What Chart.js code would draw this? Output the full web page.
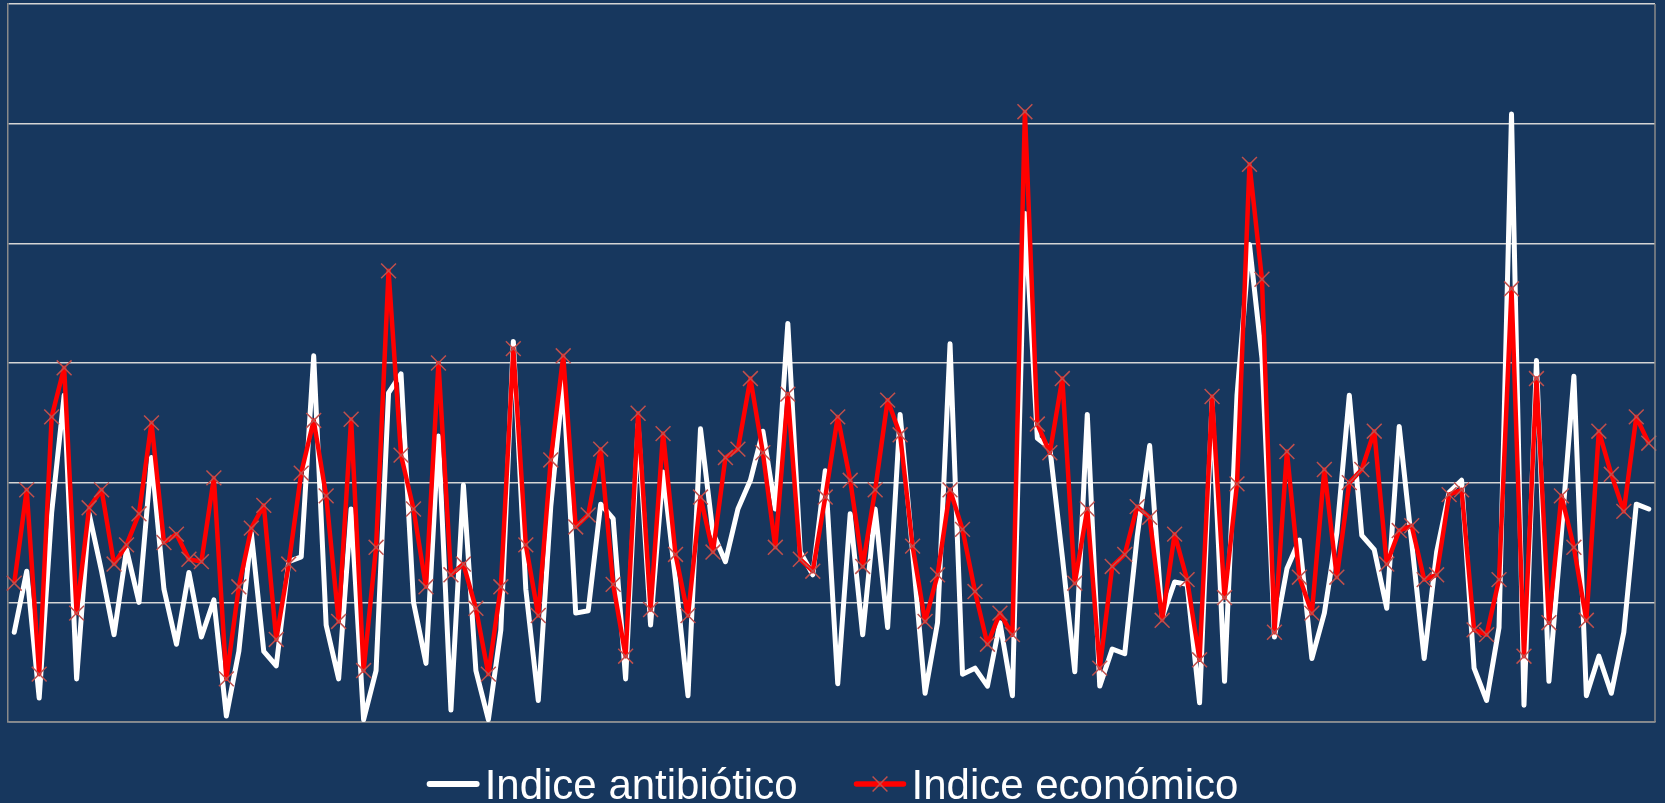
<!DOCTYPE html>
<html>
<head>
<meta charset="utf-8">
<script src="https://cdn.jsdelivr.net/npm/chart.js@4.4.0/dist/chart.umd.min.js"></script>
<style>
  html, body { margin: 0; padding: 0; background: #17375E; }
  canvas { display: block; }
</style>
</head>
<body>
<canvas id="myChart" width="1665" height="803"></canvas>
<script>
const antibiotico = [
  0.75, 1.26, 0.20, 1.75, 2.73, 0.36, 1.74, 1.26, 0.73, 1.44,
  1.00, 2.21, 1.11, 0.65, 1.25, 0.71, 1.02, 0.05, 0.59, 1.58,
  0.59, 0.47, 1.34, 1.38, 3.06, 0.81, 0.36, 1.78, 0.02, 0.43,
  2.75, 2.91, 1.00, 0.49, 2.39, 0.10, 1.98, 0.43, 0.02, 0.77,
  3.18, 1.11, 0.18, 1.80, 2.85, 0.91, 0.93, 1.82, 1.70, 0.36,
  2.49, 0.81, 2.09, 1.19, 0.22, 2.45, 1.58, 1.34, 1.78, 2.02,
  2.43, 1.78, 3.33, 1.42, 1.23, 2.10, 0.32, 1.74, 0.73, 1.78,
  0.79, 2.57, 1.42, 0.24, 0.83, 3.16, 0.40, 0.45, 0.30, 0.83,
  0.22, 4.25, 2.37, 2.29, 1.38, 0.42, 2.57, 0.30, 0.61, 0.57,
  1.55, 2.31, 0.87, 1.17, 1.15, 0.16, 2.68, 0.34, 2.73, 3.99,
  3.04, 0.71, 1.28, 1.52, 0.53, 0.91, 1.58, 2.73, 1.56, 1.44,
  0.95, 2.47, 1.50, 0.53, 1.42, 1.92, 2.02, 0.45, 0.18, 0.79,
  5.08, 0.14, 3.02, 0.34, 1.58, 2.89, 0.22, 0.55, 0.24, 0.75,
  1.82, 1.78
];

const economico = [
  1.16, 1.94, 0.40, 2.55, 2.96, 0.91, 1.79, 1.94, 1.32, 1.48,
  1.74, 2.50, 1.50, 1.57, 1.36, 1.34, 2.04, 0.36, 1.13, 1.62,
  1.81, 0.69, 1.32, 2.08, 2.52, 1.89, 0.84, 2.53, 0.43, 1.46,
  3.77, 2.23, 1.78, 1.13, 3.00, 1.23, 1.32, 0.95, 0.40, 1.13,
  3.12, 1.48, 0.89, 2.19, 3.06, 1.63, 1.73, 2.28, 1.15, 0.55,
  2.58, 0.94, 2.41, 1.40, 0.89, 1.88, 1.42, 2.21, 2.28, 2.87,
  2.25, 1.46, 2.74, 1.36, 1.26, 1.88, 2.55, 2.02, 1.30, 1.94,
  2.69, 2.40, 1.47, 0.84, 1.23, 1.94, 1.61, 1.09, 0.65, 0.91,
  0.73, 5.10, 2.49, 2.25, 2.87, 1.16, 1.78, 0.45, 1.30, 1.40,
  1.80, 1.71, 0.85, 1.57, 1.19, 0.52, 2.72, 1.04, 1.99, 4.66,
  3.70, 0.75, 2.26, 1.21, 0.91, 2.11, 1.21, 2.00, 2.11, 2.43,
  1.32, 1.60, 1.64, 1.19, 1.23, 1.90, 1.94, 0.77, 0.73, 1.19,
  3.62, 0.55, 2.87, 0.83, 1.89, 1.46, 0.85, 2.43, 2.07, 1.76,
  2.55, 2.33
];

const labels = antibiotico.map((v, i) => String(i + 1));

const markerColor = '#C0504D';

const datasets = [
  {
    label: 'Indice antibiótico',
    data: antibiotico,
    borderColor: '#FFFFFF',
    backgroundColor: '#FFFFFF',
    borderWidth: 5,
    pointRadius: 0,
    borderJoinStyle: 'round',
    borderCapStyle: 'round',
    tension: 0,
    order: 2
  },
  {
    label: 'Indice económico',
    data: economico,
    borderColor: '#FF0000',
    backgroundColor: '#FF0000',
    borderWidth: 4.5,
    pointStyle: 'crossRot',
    pointRadius: 10.5,
    pointBorderColor: markerColor,
    pointBackgroundColor: markerColor,
    pointBorderWidth: 1.5,
    borderJoinStyle: 'round',
    tension: 0,
    order: 1
  }
];

// right edge of the plot area and the legend under it
const framePlugin = {
  id: 'frame',
  afterDraw(chart) {
    const ctx = chart.ctx;
    const area = chart.chartArea;
    ctx.save();
    ctx.strokeStyle = '#8a8a8a';
    ctx.lineWidth = 1.5;
    ctx.beginPath();
    ctx.moveTo(area.right, area.top);
    ctx.lineTo(area.right, area.bottom);
    ctx.stroke();

    ctx.font = '42px "Liberation Sans", Arial, sans-serif';
    ctx.textBaseline = 'alphabetic';
    const sampleW = 53, textGap = 5, itemGap = 56;
    const lineY = 784, textY = 799;
    const items = chart.data.datasets.map(ds => ({
      ds: ds,
      w: sampleW + textGap + ctx.measureText(ds.label).width
    }));
    let total = items.reduce((s, it) => s + it.w, 0) + itemGap * (items.length - 1);
    let x = (chart.width - total) / 2;
    items.forEach(it => {
      const ds = it.ds;
      ctx.strokeStyle = ds.borderColor;
      ctx.lineWidth = ds.borderWidth + 1;
      ctx.lineCap = 'round';
      ctx.beginPath();
      ctx.moveTo(x + 3, lineY);
      ctx.lineTo(x + sampleW - 3, lineY);
      ctx.stroke();
      if (ds.pointStyle === 'crossRot') {
        const cx = x + sampleW / 2, r = ds.pointRadius * Math.SQRT1_2;
        ctx.strokeStyle = ds.pointBorderColor;
        ctx.lineWidth = ds.pointBorderWidth;
        ctx.lineCap = 'butt';
        ctx.beginPath();
        ctx.moveTo(cx - r, lineY - r);
        ctx.lineTo(cx + r, lineY + r);
        ctx.moveTo(cx - r, lineY + r);
        ctx.lineTo(cx + r, lineY - r);
        ctx.stroke();
      }
      ctx.fillStyle = '#FFFFFF';
      ctx.fillText(ds.label, x + sampleW + textGap, textY);
      x += it.w + itemGap;
    });
    ctx.restore();
  }
};

const config = {
  type: 'line',
  data: { labels: labels, datasets: datasets },
  options: {
    responsive: false,
    animation: false,
    layout: { autoPadding: false, padding: { left: 8, top: 4, right: 10, bottom: 81 } },
    plugins: {
      legend: { display: false },
      tooltip: { enabled: false }
    },
    scales: {
      x: {
        offset: true,
        grid: { display: false, drawTicks: false },
        ticks: { display: false },
        border: { color: '#8a8a8a', width: 1.5 }
      },
      y: {
        min: 0,
        max: 6,
        ticks: { stepSize: 1, display: false },
        grid: { color: '#d4d4d4', lineWidth: 1.5, drawTicks: false },
        border: { color: '#8a8a8a', width: 1.5 }
      }
    }
  },
  plugins: [framePlugin]
};

const myChart = new Chart(document.getElementById('myChart'), config);
</script>
</body>
</html>
